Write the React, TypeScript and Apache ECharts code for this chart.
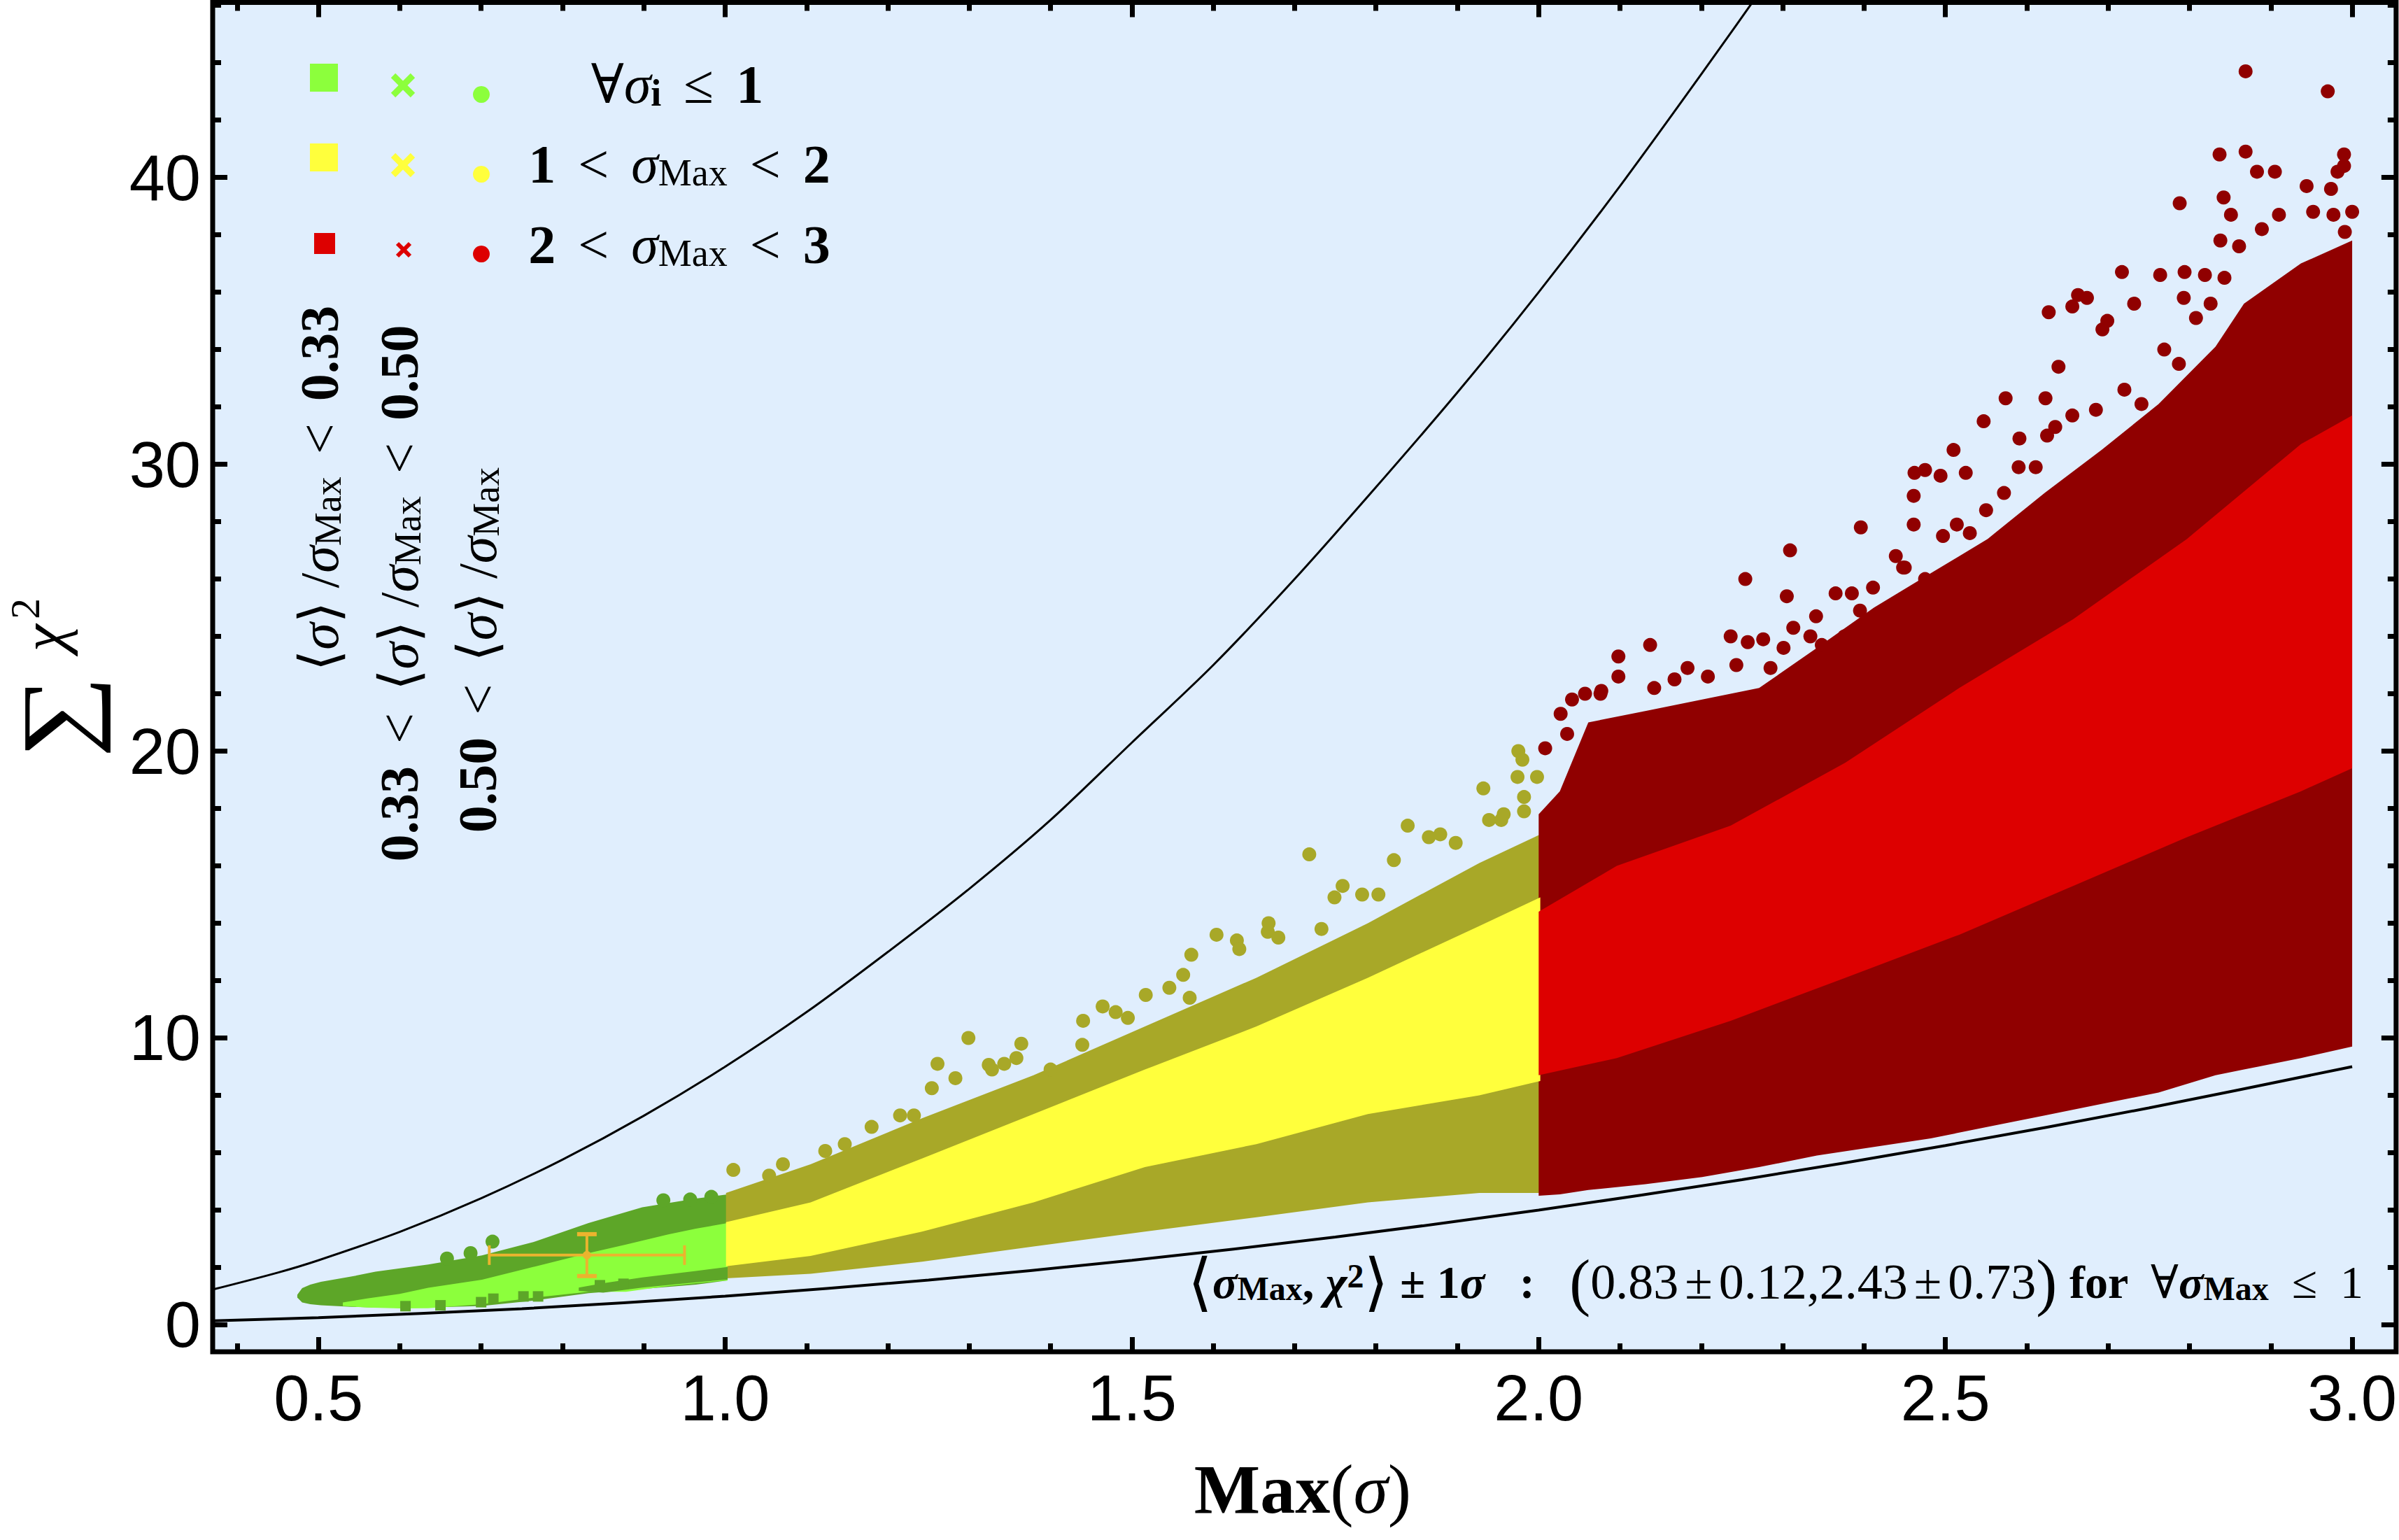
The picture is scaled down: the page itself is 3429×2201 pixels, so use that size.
import React, { useEffect, useRef } from "react";
import * as echarts from "echarts";

// ---------------- axes ----------------
const X_MIN = 0.37;
const X_MAX = 3.054;
const Y_MIN = -0.94;
const Y_MAX = 46.1;
const xMajor = [0.5, 1.0, 1.5, 2.0, 2.5, 3.0];
const xMinor = [0.4, 0.6, 0.7, 0.8, 0.9, 1.1, 1.2, 1.3, 1.4, 1.6, 1.7, 1.8, 1.9, 2.1, 2.2, 2.3, 2.4, 2.6, 2.7, 2.8, 2.9];
const yMajor = [0, 10, 20, 30, 40];
const yMinor = [2, 4, 6, 8, 12, 14, 16, 18, 22, 24, 26, 28, 32, 34, 36, 38, 42, 44, 46];

// ---------------- black bounding curves ----------------
const upperX = [0.37, 0.45, 0.5, 0.6, 0.7, 0.8, 0.9, 1.0, 1.1, 1.2, 1.3, 1.4, 1.5, 1.6, 1.7, 1.8, 1.9, 2.0, 2.1, 2.2, 2.3];
const upperY = [1.23, 1.82, 2.25, 3.24, 4.41, 5.76, 7.29, 9.0, 10.9, 13.0, 15.2, 17.6, 20.3, 23.0, 26.0, 29.2, 32.5, 36.0, 39.7, 43.6, 47.6];
const lowerX = [0.37, 0.5, 0.75, 1.0, 1.25, 1.5, 1.75, 2.0, 2.25, 2.5, 2.75, 3.0];
const lowerY = [0.14, 0.25, 0.56, 1.0, 1.56, 2.25, 3.06, 4.0, 5.06, 6.25, 7.56, 9.0];

// ---------------- green band (all sigma_i <= 1) ----------------
const greenX = [0.474, 0.48, 0.49, 0.503, 0.54, 0.57, 0.635, 0.701, 0.766, 0.832, 0.898, 0.964, 1.003];
const greenTop = [1.05, 1.28, 1.4, 1.5, 1.68, 1.85, 2.1, 2.42, 2.9, 3.55, 4.1, 4.4, 4.55];
const greenBot = [0.95, 0.78, 0.72, 0.68, 0.63, 0.6, 0.6, 0.66, 0.85, 1.1, 1.25, 1.4, 1.55];
const greenCrossX = [0.53, 0.56, 0.6, 0.635, 0.701, 0.766, 0.832, 0.878, 0.93, 0.964, 1.003];
const greenCrossTop = [0.78, 0.92, 1.08, 1.29, 1.57, 2.03, 2.5, 2.8, 3.15, 3.35, 3.55];
const greenCrossBot = [0.66, 0.6, 0.57, 0.58, 0.72, 0.95, 1.15, 1.15, 1.35, 1.45, 1.55];
const greenSqX = [0.82, 0.85, 0.898, 0.964, 1.003];
const greenSqTop = [1.3, 1.45, 1.65, 1.88, 2.02];
const greenSqBot = [1.18, 1.12, 1.3, 1.48, 1.58];
const greenDots = [[0.658, 2.31], [0.687, 2.5], [0.714, 2.9], [0.924, 4.34], [0.957, 4.37], [0.983, 4.46]];
const greenSquares = [[0.607, 0.65], [0.65, 0.68], [0.7, 0.79], [0.715, 0.91], [0.752, 0.99], [0.77, 0.99], [0.846, 1.38], [0.875, 1.43]];

// ---------------- yellow band (1 < sigma_max < 2) ----------------
const yelX = [1.001, 1.105, 1.242, 1.379, 1.516, 1.653, 1.79, 1.927, 2.002];
const yelTop = [4.6, 5.6, 7.2, 8.7, 10.4, 12.1, 14.0, 16.1, 17.1];
const yelCrossTop = [3.58, 4.27, 5.8, 7.35, 8.9, 10.4, 12.1, 13.9, 14.9];
const yelSqTop = [2.04, 2.4, 3.25, 4.27, 5.5, 6.3, 7.35, 8.0, 8.5];
const yelBot = [1.62, 1.78, 2.2, 2.73, 3.25, 3.75, 4.27, 4.6, 4.6];
const oliveDots = [
  [1.01, 5.4], [1.054, 5.2], [1.071, 5.6], [1.123, 6.06], [1.147, 6.3], [1.18, 6.9], [1.215, 7.3], [1.232, 7.3],
  [1.254, 8.25], [1.261, 9.1], [1.283, 8.6], [1.299, 10.0], [1.324, 9.06], [1.328, 8.9], [1.343, 9.1], [1.358, 9.3],
  [1.364, 9.8], [1.4, 8.9], [1.439, 9.76], [1.44, 10.6], [1.464, 11.1], [1.48, 10.9], [1.495, 10.7], [1.517, 11.5],
  [1.546, 11.75], [1.563, 12.2], [1.571, 11.4], [1.573, 12.9], [1.604, 13.6], [1.629, 13.4], [1.632, 13.1], [1.667, 13.7],
  [1.668, 14.0], [1.68, 13.5], [1.718, 16.4], [1.733, 13.8], [1.749, 14.9], [1.759, 15.3], [1.783, 15.0], [1.803, 15.0],
  [1.822, 16.2], [1.839, 17.4], [1.865, 17.0], [1.879, 17.1], [1.898, 16.8], [1.932, 18.7], [1.939, 17.6], [1.954, 17.6],
  [1.957, 17.8], [1.974, 19.1], [1.975, 20.0], [1.98, 19.7], [1.982, 18.4], [1.982, 17.9], [1.998, 19.1],
];

// ---------------- red band (2 < sigma_max < 3) ----------------
const redX = [2.0, 2.026, 2.061, 2.131, 2.201, 2.271, 2.342, 2.412, 2.482, 2.552, 2.622, 2.692, 2.762, 2.832, 2.867, 2.937, 3.0];
const redTop = [17.8, 18.6, 21.0, 21.4, 21.8, 22.2, 23.6, 25.0, 26.2, 27.4, 29.0, 30.5, 32.1, 34.1, 35.6, 37.0, 37.8];
const redBot = [4.5, 4.55, 4.7, 4.9, 5.15, 5.5, 5.9, 6.2, 6.5, 6.9, 7.3, 7.7, 8.1, 8.7, 8.9, 9.3, 9.7];
const redCrossX = [2.0, 2.096, 2.236, 2.377, 2.517, 2.657, 2.797, 2.937, 3.0];
const redCrossTop = [14.4, 16.0, 17.4, 19.6, 22.2, 24.6, 27.4, 30.7, 31.7];
const redSqTop = [8.7, 9.3, 10.6, 12.1, 13.6, 15.3, 17.0, 18.6, 19.4];
const redDots = [
  [2.008, 20.1], [2.027, 21.3], [2.035, 20.6], [2.041, 21.8], [2.057, 22.0], [2.076, 22.0], [2.077, 22.1], [2.098, 23.3],
  [2.098, 22.6], [2.137, 23.7], [2.142, 22.2], [2.167, 22.5], [2.183, 22.9], [2.208, 22.6], [2.236, 24.0], [2.243, 23.0],
  [2.254, 26.0], [2.257, 23.8], [2.276, 23.9], [2.285, 22.9], [2.301, 23.6], [2.305, 25.4], [2.309, 27.0], [2.313, 24.3],
  [2.334, 24.0], [2.341, 24.7], [2.348, 23.7], [2.365, 25.5], [2.376, 24.0], [2.385, 25.5], [2.395, 24.9], [2.396, 27.8],
  [2.411, 25.7], [2.439, 26.8], [2.448, 26.4], [2.45, 26.4], [2.461, 28.9], [2.461, 27.9], [2.462, 29.7], [2.475, 29.8],
  [2.475, 26.0], [2.494, 29.6], [2.497, 27.5], [2.51, 30.5], [2.514, 27.9], [2.525, 29.7], [2.53, 27.6], [2.547, 31.5],
  [2.55, 28.4], [2.572, 29.0], [2.574, 32.3], [2.59, 29.9], [2.591, 30.9], [2.611, 29.9], [2.623, 32.3], [2.625, 31.0],
  [2.627, 35.3], [2.635, 31.3], [2.639, 33.4], [2.656, 35.5], [2.656, 31.7], [2.663, 35.9], [2.674, 35.8], [2.685, 31.9],
  [2.693, 34.7], [2.699, 35.0], [2.717, 36.7], [2.72, 32.6], [2.732, 35.6], [2.741, 32.1], [2.764, 36.6], [2.769, 34.0],
  [2.787, 33.5], [2.788, 39.1], [2.793, 35.8], [2.794, 36.7], [2.808, 35.1], [2.819, 36.6], [2.826, 35.6], [2.837, 40.8],
  [2.838, 37.8], [2.842, 39.3], [2.843, 36.5], [2.851, 38.7], [2.861, 37.6], [2.869, 43.7], [2.869, 40.9], [2.883, 40.2],
  [2.889, 38.2], [2.905, 40.2], [2.91, 38.7], [2.944, 39.7], [2.952, 38.8], [2.97, 43.0], [2.974, 39.6], [2.977, 38.7],
  [2.982, 40.2], [2.99, 40.8], [2.99, 40.4], [2.991, 38.1], [3.0, 38.8],
];

// ---------------- mean +- 1 sigma for sigma_max <= 1 ----------------
const errPoint = [[0.83, 2.43, 0.12, 0.73]];

// ---------------- colours / fonts ----------------
const BG = "#E0EEFD";
const G_LIGHT = "#8CFF3C";
const G_DARK = "#5DA628";
const Y_LIGHT = "#FFFF3C";
const Y_DARK = "#A8A828";
const R_LIGHT = "#DD0000";
const R_DARK = "#900000";
const ERR = "#EBB42E";
const SERIF = "'Liberation Serif','DejaVu Serif','DejaVu Sans',serif";
const SANS = "'Liberation Sans',Arial,sans-serif";

function band(name: string, xs: number[], top: number[], bot: number[], color: string, z: number) {
  return {
    type: "custom",
    name,
    z,
    silent: true,
    coordinateSystem: "cartesian2d",
    xAxisIndex: 0,
    yAxisIndex: 0,
    data: xs.map((x, i) => [x, top[i], bot[i]]),
    encode: { x: 0, y: [1, 2] },
    renderItem: (params: any, api: any) => {
      if (params.dataIndex !== 0) return null;
      const pts: number[][] = [];
      for (let i = 0; i < xs.length; i++) pts.push(api.coord([xs[i], top[i]]));
      for (let i = xs.length - 1; i >= 0; i--) pts.push(api.coord([xs[i], bot[i]]));
      return { type: "polygon", shape: { points: pts }, style: { fill: color } };
    },
  };
}

function dots(data: number[][], color: string, symbol: string, size: number, z: number) {
  return {
    type: "scatter",
    xAxisIndex: 0,
    yAxisIndex: 0,
    z,
    silent: true,
    symbol,
    symbolSize: size,
    itemStyle: { color, opacity: 1 },
    data,
  };
}

function curve(xs: number[], ys: number[], width: number) {
  return {
    type: "line",
    xAxisIndex: 0,
    yAxisIndex: 0,
    z: 6,
    silent: true,
    showSymbol: false,
    symbol: "none",
    smooth: 0.3,
    clip: true,
    lineStyle: { color: "#000", width },
    data: xs.map((x, i) => [x, ys[i]]),
  };
}

function richSet(F: number, L: number, S: number, SL: number, SUPL: number, BIG: number, relPad: number, NUM: number) {
  const base = { fontFamily: SERIF, fontSize: F, lineHeight: L, fill: "#000" };
  return {
    r: { ...base },
    n: { ...base, fontSize: NUM },
    rel: { ...base, padding: [0, relPad, 0, relPad] },
    reln: { ...base, fontSize: NUM, padding: [0, relPad, 0, relPad] },
    b: { ...base, fontWeight: "bold" },
    i: { ...base, fontStyle: "italic" },
    bi: { ...base, fontStyle: "italic", fontWeight: "bold" },
    s: { fontFamily: SERIF, fontSize: S, lineHeight: SL, verticalAlign: "bottom", fill: "#000" },
    sb: { fontFamily: SERIF, fontSize: S, lineHeight: SL, verticalAlign: "bottom", fontWeight: "bold", fill: "#000" },
    sup: { fontFamily: SERIF, fontSize: S, lineHeight: SUPL, verticalAlign: "top", fontWeight: "bold", fill: "#000" },
    big: { fontFamily: SERIF, fontSize: BIG, lineHeight: L, fill: "#000" },
  };
}

const legendRich = richSet(78, 80, 54, 40, 30, 100, 32, 78);
const noteRich = richSet(66, 66, 48, 36, 14, 90, 9, 72);

function legendText(text: string, x: number, y: number, rotation = 0, align = "center") {
  return {
    type: "text",
    x,
    y,
    rotation,
    z: 20,
    style: { text, rich: legendRich, align, verticalAlign: "middle", fill: "#000", fontFamily: SERIF, fontSize: 78 },
  };
}

function crossMark(cx: number, cy: number, size: number, color: string, w: number) {
  const h = size / 2;
  return [
    { type: "line", z: 20, shape: { x1: cx - h, y1: cy - h, x2: cx + h, y2: cy + h }, style: { stroke: color, lineWidth: w } },
    { type: "line", z: 20, shape: { x1: cx - h, y1: cy + h, x2: cx + h, y2: cy - h }, style: { stroke: color, lineWidth: w } },
  ];
}

function legendRow(color: string, sq: number[], cr: number[], ci: number[]) {
  return [
    { type: "rect", z: 20, shape: { x: sq[0] - sq[2] / 2, y: sq[1] - sq[2] / 2, width: sq[2], height: sq[2] }, style: { fill: color } },
    ...crossMark(cr[0], cr[1], cr[2], color, cr[3]),
    { type: "circle", z: 20, shape: { cx: ci[0], cy: ci[1], r: ci[2] }, style: { fill: color } },
  ];
}

function axisPair(dim: "x" | "y", position: string, major: number[], minor: number[], labels: boolean) {
  const min = dim === "x" ? X_MIN : Y_MIN;
  const max = dim === "x" ? X_MAX : Y_MAX;
  const base = {
    type: "value",
    position,
    min,
    max,
    axisLine: { show: false, onZero: false },
    splitLine: { show: false },
  };
  return [
    {
      ...base,
      axisTick: { show: true, inside: true, length: 21, customValues: major, lineStyle: { color: "#000", width: 7 } },
      axisLabel: labels
        ? {
            show: true,
            customValues: major,
            formatter: (v: number) => (dim === "x" ? v.toFixed(1) : String(v)),
            fontSize: 92,
            fontFamily: SANS,
            color: "#000",
            margin: dim === "x" ? 20 : 17,
          }
        : { show: false },
    },
    {
      ...base,
      axisTick: { show: true, inside: true, length: 12, customValues: minor, lineStyle: { color: "#000", width: 7 } },
      axisLabel: { show: false },
    },
  ];
}

const option: any = {
  animation: false,
  backgroundColor: "#fff",
  grid: {
    left: 304,
    right: 3.5,
    top: 3.5,
    bottom: 269,
    show: true,
    backgroundColor: BG,
    borderColor: "#000",
    borderWidth: 7,
  },
  xAxis: [...axisPair("x", "bottom", xMajor, xMinor, true), ...axisPair("x", "top", xMajor, xMinor, false)],
  yAxis: [...axisPair("y", "left", yMajor, yMinor, true), ...axisPair("y", "right", yMajor, yMinor, false)],
  series: [
    band("green circles", greenX, greenTop, greenBot, G_DARK, 2),
    band("green crosses", greenCrossX, greenCrossTop, greenCrossBot, G_LIGHT, 3),
    band("green squares", greenSqX, greenSqTop, greenSqBot, G_DARK, 4),
    band("yellow circles+squares", yelX, yelTop, yelBot, Y_DARK, 2),
    band("yellow crosses", yelX, yelCrossTop, yelSqTop, Y_LIGHT, 3),
    band("red circles+squares", redX, redTop, redBot, R_DARK, 2),
    band("red crosses", redCrossX, redCrossTop, redSqTop, R_LIGHT, 3),
    dots(greenDots, G_DARK, "circle", 20, 5),
    dots(greenSquares, G_DARK, "rect", 15, 5),
    dots(oliveDots, Y_DARK, "circle", 20, 5),
    dots(redDots, R_DARK, "circle", 20, 5),
    curve(upperX, upperY, 3),
    curve(lowerX, lowerY, 4),
    {
      type: "custom",
      xAxisIndex: 0,
      yAxisIndex: 0,
      z: 8,
      silent: true,
      data: errPoint,
      encode: { x: 0, y: 1 },
      renderItem: (params: any, api: any) => {
        const x = api.value(0);
        const y = api.value(1);
        const dx = api.value(2);
        const dy = api.value(3);
        const c = api.coord([x, y]);
        const l = api.coord([x - dx, y]);
        const r = api.coord([x + dx, y]);
        const t = api.coord([x, y + dy]);
        const b = api.coord([x, y - dy]);
        const cap = 14;
        const st = { stroke: ERR, lineWidth: 4 };
        const stc = { stroke: ERR, lineWidth: 6 };
        return {
          type: "group",
          children: [
            { type: "line", shape: { x1: l[0], y1: l[1], x2: r[0], y2: r[1] }, style: st },
            { type: "line", shape: { x1: t[0], y1: t[1], x2: b[0], y2: b[1] }, style: st },
            { type: "line", shape: { x1: l[0], y1: l[1] - cap, x2: l[0], y2: l[1] + cap }, style: st },
            { type: "line", shape: { x1: r[0], y1: r[1] - cap, x2: r[0], y2: r[1] + cap }, style: st },
            { type: "line", shape: { x1: t[0] - cap, y1: t[1], x2: t[0] + cap, y2: t[1] }, style: stc },
            { type: "line", shape: { x1: b[0] - cap, y1: b[1], x2: b[0] + cap, y2: b[1] }, style: stc },
            { type: "circle", shape: { cx: c[0], cy: c[1], r: 6 }, style: { fill: ERR } },
          ],
        };
      },
    },
  ],
  graphic: [
    // legend markers
    ...legendRow(G_LIGHT, [463, 111, 40], [576, 122, 28, 9], [688, 135, 12]),
    ...legendRow(Y_LIGHT, [463, 225, 40], [576, 236, 28, 9], [688, 249, 12]),
    ...legendRow(R_LIGHT, [464, 348, 30], [577, 357, 18, 6], [688, 363, 12]),
    // legend texts
    legendText("{r|∀}{i|σ}{sb|i}{rel|≤}{b|1}", 968, 120),
    legendText("{b|1}{rel|<}{i|σ}{s|Max}{rel|<}{b|2}", 971, 234),
    legendText("{b|2}{rel|<}{i|σ}{s|Max}{rel|<}{b|3}", 971, 349),
    // rotated ratio labels
    legendText("{r|⟨}{i|σ}{r|⟩ /}{i|σ}{s|Max}{rel|<}{b|0.33}", 456, 698, Math.PI / 2),
    legendText("{b|0.33}{rel|<}{r|⟨}{i|σ}{r|⟩ /}{i|σ}{s|Max}{rel|<}{b|0.50}", 570, 848, Math.PI / 2),
    legendText("{b|0.50}{rel|<}{r|⟨}{i|σ}{r|⟩ /}{i|σ}{s|Max}", 682, 929, Math.PI / 2),
    // annotation
    {
      type: "text",
      x: 3378,
      y: 1832,
      z: 20,
      style: {
        text:
          "{big|⟨}{bi|σ}{sb|Max}{b|, }{bi|χ}{sup|2}{big|⟩}{b| ± 1}{bi|σ}{b|   :   }{big|(}{n|0.83}{reln|±}{n|0.12,2.43}{reln|±}{n|0.73}{big|)}{b| for  }{r|∀}{bi|σ}{sb|Max}{r|  ≤  1}",
        rich: noteRich,
        align: "right",
        verticalAlign: "middle",
        fill: "#000",
        fontFamily: SERIF,
        fontSize: 66,
      },
    },
    // x axis title
    {
      type: "text",
      x: 1862,
      y: 2128,
      z: 20,
      style: {
        text: "{b|Max}{r|(}{i|σ}{r|)}",
        rich: richSet(100, 100, 70, 50, 40, 120, 0, 100),
        align: "center",
        verticalAlign: "middle",
        fill: "#000",
        fontFamily: SERIF,
        fontSize: 100,
      },
    },
    // y axis title: sum chi^2 (rotated)
    {
      type: "text",
      x: 81,
      y: 1024,
      rotation: Math.PI / 2,
      scaleX: 1.18,
      z: 20,
      style: { text: "∑", fontFamily: SERIF, fontSize: 140, lineHeight: 110, align: "center", verticalAlign: "middle", fill: "#000" },
    },
    {
      type: "text",
      x: 62,
      y: 912,
      rotation: Math.PI / 2,
      z: 20,
      style: { text: "χ", fontFamily: SERIF, fontStyle: "italic", fontSize: 88, lineHeight: 80, align: "center", verticalAlign: "middle", fill: "#000" },
    },
    {
      type: "text",
      x: 36,
      y: 870,
      rotation: Math.PI / 2,
      z: 20,
      style: { text: "2", fontFamily: SERIF, fontSize: 60, lineHeight: 56, align: "center", verticalAlign: "middle", fill: "#000" },
    },
  ],
};

export default function App() {
  const ref = useRef<HTMLDivElement>(null);
  useEffect(() => {
    const chart = echarts.init(ref.current as HTMLDivElement, undefined, { renderer: "svg" });
    chart.setOption(option);
    return () => chart.dispose();
  }, []);
  return (
    <div
      ref={ref}
      style={{ position: "fixed", left: 0, top: 0, width: 3429, height: 2201, background: "#fff" }}
    />
  );
}
